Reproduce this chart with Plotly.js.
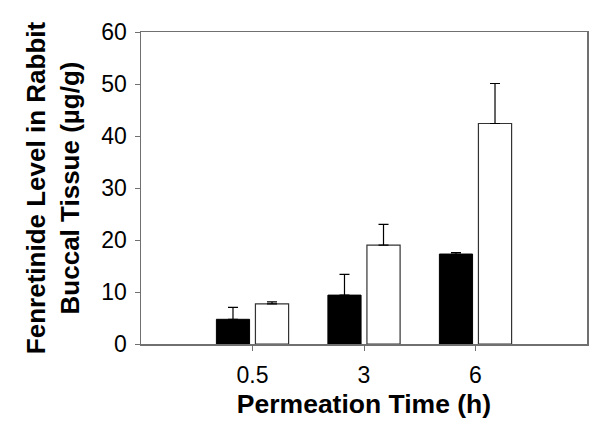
<!DOCTYPE html>
<html>
<head>
<meta charset="utf-8">
<script src="https://cdn.plot.ly/plotly-3.0.1.min.js"></script>
<style>html,body{margin:0;padding:0;background:#fff;}#chart{width:600px;height:434px;}</style>
</head>
<body>
<div id="chart"></div>
<script>
const categories = ['0.5', '3', '6'];
const seriesA = [4.75, 9.4, 17.3];
const seriesAErr = [2.3, 4.0, 0.3];
const seriesB = [7.7, 19.0, 42.4];
const seriesBErr = [0.4, 4.0, 7.7];
const yTicks = [0, 10, 20, 30, 40, 50, 60];

const traces = [
  {
    type: 'bar', x: categories, y: seriesA, name: 'A',
    marker: {color: '#000000', line: {color: '#000000', width: 1}},
    error_y: {type: 'data', array: seriesAErr, arrayminus: seriesAErr.map(() => 0), symmetric: false,
              color: '#000000', thickness: 1.2, width: 5}
  },
  {
    type: 'bar', x: categories, y: seriesB, name: 'B',
    marker: {color: '#ffffff', line: {color: '#333333', width: 1.2}},
    error_y: {type: 'data', array: seriesBErr, arrayminus: seriesBErr.map(() => 0), symmetric: false,
              color: '#000000', thickness: 1.2, width: 5}
  }
];

const layout = {
  width: 600, height: 434,
  margin: {l: 141, r: 13, t: 32, b: 90},
  paper_bgcolor: '#ffffff', plot_bgcolor: '#ffffff',
  showlegend: false,
  barmode: 'group', bargap: 0.30, bargroupgap: 0.15,
  font: {family: 'Liberation Sans, Arial, sans-serif', color: '#000000'},
  xaxis: {
    type: 'category', range: [-1, 3],
    showline: true, linecolor: '#707070', linewidth: 1.5, mirror: true,
    ticks: 'outside', ticklen: 5, tickcolor: '#707070', tickwidth: 1,
    showgrid: false, zeroline: false,
    ticklabelstandoff: 5,
    tickfont: {size: 23, color: '#000000'},
    title: {text: 'Permeation Time (h)', font: {size: 26.5, color: '#000000', weight: 'bold'}, standoff: 7}
  },
  yaxis: {
    range: [0, 60], tickvals: yTicks, ticktext: yTicks.map(String),
    showline: true, linecolor: '#707070', linewidth: 1.5, mirror: true,
    ticks: 'outside', ticklen: 5, tickcolor: '#707070', tickwidth: 1,
    showgrid: false, zeroline: false,
    ticklabelstandoff: 3,
    tickfont: {size: 23, color: '#000000'},
    title: {text: 'Fenretinide Level in Rabbit<br>Buccal Tissue (µg/g)', font: {size: 26, color: '#000000', weight: 'bold'}, standoff: 14}
  }
};

Plotly.newPlot('chart', traces, layout, {displayModeBar: false, staticPlot: true});
</script>
</body>
</html>
